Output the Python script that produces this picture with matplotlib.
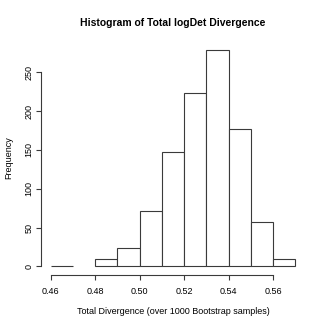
import numpy as np
import matplotlib
matplotlib.use("Agg")
import matplotlib.pyplot as plt

plt.rcParams["font.family"] = "Liberation Sans"

# bin edges and counts
bin_edges = [0.46, 0.47, 0.48, 0.49, 0.50, 0.51, 0.52, 0.53, 0.54, 0.55, 0.56, 0.57]
counts = [1, 0, 10, 24, 72, 148, 223, 279, 177, 57, 9]
x_ticks = [0.46, 0.48, 0.50, 0.52, 0.54, 0.56]
y_ticks = [0, 50, 100, 150, 200, 250]

line_col = "#3a3a3a"

fig = plt.figure(figsize=(3.27, 3.26), dpi=100)
ax = fig.add_axes([0.125, 0.156, 0.808, 0.718])

left = np.array(bin_edges[:-1])
widths = np.diff(bin_edges)
heights = np.array(counts)
keep = heights > 0  # empty bins are not drawn in the reference
ax.bar(left[keep], heights[keep], width=widths[keep], align="edge",
       facecolor="white", edgecolor=line_col, linewidth=0.8)

# R-style padding of 4% on both axes
xr = bin_edges[-1] - bin_edges[0]
ax.set_xlim(bin_edges[0] - 0.04 * xr, bin_edges[-1] + 0.04 * xr)
ax.set_ylim(-0.04 * max(counts), max(counts) * 1.04)

for s in ["top", "right"]:
    ax.spines[s].set_visible(False)
ax.spines["left"].set_bounds(y_ticks[0], y_ticks[-1])
ax.spines["bottom"].set_bounds(x_ticks[0], x_ticks[-1])
for s in ["left", "bottom"]:
    ax.spines[s].set_color(line_col)
    ax.spines[s].set_linewidth(0.8)

ax.set_xticks(x_ticks)
ax.set_xticklabels(["%.2f" % v for v in x_ticks])
ax.set_yticks(y_ticks)
ax.set_yticklabels([str(v) for v in y_ticks], rotation=90, va="center")
ax.tick_params(length=3.5, width=0.8, color=line_col, labelsize=6.5)
ax.tick_params(axis="x", pad=5)
ax.tick_params(axis="y", pad=2)

ax.set_title("Histogram of Total logDet Divergence", fontsize=7.5,
             fontweight="bold", pad=10.5)
ax.set_xlabel("Total Divergence (over 1000 Bootstrap samples)", fontsize=6.5, labelpad=8)
ax.set_ylabel("Frequency", fontsize=6.5)
ax.yaxis.set_label_coords(-0.106, 0.5)

fig.savefig("out.png", dpi=100)
